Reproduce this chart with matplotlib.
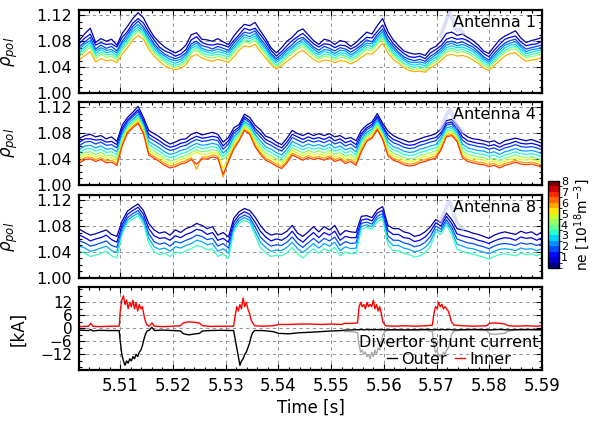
import numpy as np
import matplotlib
matplotlib.use("Agg")
import matplotlib.pyplot as plt
from matplotlib.colors import BoundaryNorm, ListedColormap
from matplotlib.colorbar import ColorbarBase
from matplotlib.ticker import MultipleLocator, FormatStrFormatter

# time base of the profiles (ms after 5.500 s)
t_rho_ms = np.linspace(2.3, 90.0, 88)

# rho_pol of each density layer, stored as 1e-3 above 1.0 (first list = lowest ne)
ant1_ne = [0.3, 0.9, 1.5, 2.1, 2.7, 3.4, 4.3, 5.8]
ant1_l0 = [82,92,100,78,84,80,83,74,92,103,115,124,116,100,87,78,71,66,62,66,74,90,93,83,82,80,84,79,75,88,98,106,104,109,96,84,70,62,70,80,86,95,99,90,81,75,83,81,75,81,79,72,78,86,94,91,104,115,95,82,73,65,62,60,61,58,68,72,80,92,94,89,91,86,81,74,65,61,72,82,88,92,96,85,78,81,83,86]
ant1_l1 = [77,85,91,74,78,75,76,71,86,95,108,115,108,94,82,71,65,62,57,60,67,82,87,78,75,74,76,74,71,81,90,100,97,100,90,79,66,57,64,73,81,87,92,84,76,71,76,75,70,74,73,68,72,79,86,85,95,105,88,76,68,61,56,55,57,53,62,67,73,83,86,83,84,81,75,69,61,56,66,75,83,86,88,79,73,75,76,80]
ant1_l2 = [72,79,86,68,74,69,72,65,80,91,103,111,102,89,76,67,60,56,53,56,62,76,80,73,71,68,72,69,66,77,86,94,92,96,84,74,61,53,60,68,75,83,86,79,71,66,72,69,65,70,68,63,68,74,82,79,90,99,82,72,63,56,52,50,52,49,57,62,69,78,80,77,79,75,71,64,56,51,61,70,77,81,83,74,68,70,72,74]
ant1_l3 = [68,76,81,65,70,66,67,62,77,86,99,106,98,84,73,63,57,52,50,52,59,72,77,69,66,65,68,65,63,72,82,90,87,92,80,70,58,50,56,65,71,78,83,75,68,62,67,66,61,66,65,59,64,71,77,76,86,95,78,68,60,53,48,47,48,46,53,59,65,74,77,73,75,72,67,61,53,48,57,66,74,77,79,71,64,67,68,71]
ant1_l4 = [64,71,78,61,67,62,64,58,73,83,95,102,95,80,69,60,53,49,46,49,55,69,73,66,63,61,64,62,59,69,78,86,84,88,76,67,54,47,53,61,68,75,79,71,64,59,64,62,58,62,61,56,61,67,74,72,82,91,75,64,56,50,45,43,45,42,50,55,62,70,73,70,71,68,64,57,50,45,54,62,70,74,75,67,61,63,65,67]
ant1_l5 = [60,68,74,57,63,59,60,55,70,79,92,98,91,77,65,57,50,45,43,45,52,65,70,62,59,58,60,58,56,65,75,82,80,85,72,63,51,43,49,58,64,71,76,68,61,55,60,59,54,59,57,53,57,64,70,69,78,88,71,61,53,46,42,40,41,39,46,52,58,67,69,66,68,64,60,54,46,42,50,59,66,70,72,64,57,60,61,64]
ant1_l6 = [57,64,71,53,60,55,57,51,66,76,88,95,88,73,62,53,47,42,39,42,48,62,66,59,55,54,57,54,52,62,71,79,77,81,69,59,47,40,46,54,61,68,72,64,57,52,57,55,51,55,54,49,54,60,67,65,75,84,68,57,50,43,38,36,38,35,43,48,55,63,66,62,64,61,56,50,43,38,47,55,63,67,68,60,54,56,58,60]
ant1_l7 = [52,58,64,48,53,50,51,47,60,70,82,89,83,68,57,49,42,38,36,38,44,56,60,54,51,49,52,50,47,56,66,73,71,75,64,54,44,37,42,49,55,62,66,59,52,48,51,50,47,50,49,45,49,55,61,60,68,77,62,52,46,39,35,33,34,32,39,44,50,58,60,57,58,56,51,46,39,35,42,50,57,61,62,55,49,51,52,55]

ant4_ne = [0.3, 0.9, 1.5, 2.3, 3.1, 4.1, 5.0, 5.9, 6.8]
ant4_l0 = [72,76,78,74,76,71,74,67,92,104,112,121,104,84,79,74,68,63,66,70,71,78,81,77,79,81,78,66,73,88,93,109,104,92,85,75,72,66,62,72,84,79,76,80,76,79,76,79,74,76,71,73,68,84,92,97,110,95,83,76,72,69,66,68,71,74,76,79,86,99,101,92,80,74,71,70,68,66,68,63,68,70,72,70,68,70,67,64]
ant4_l1 = [66,71,71,69,70,66,67,62,87,100,108,116,100,78,73,68,62,58,60,64,66,71,75,72,73,75,73,60,68,83,89,105,99,87,79,70,66,61,57,66,78,74,70,74,71,73,70,74,68,71,65,68,62,79,88,93,106,91,77,70,67,63,61,62,66,68,71,73,81,95,97,88,74,68,66,64,63,60,62,58,62,64,67,64,63,64,62,59]
ant4_l2 = [61,66,67,63,66,61,62,57,83,97,105,113,97,73,68,63,57,53,55,59,61,66,70,67,68,70,68,55,63,79,86,102,96,83,74,65,61,56,52,61,73,69,65,69,66,68,65,69,63,66,60,63,57,75,85,90,103,88,72,65,62,58,56,57,61,63,66,68,77,92,94,85,69,63,61,59,58,55,57,53,57,59,62,59,58,59,57,54]
ant4_l3 = [55,60,61,57,60,55,56,51,78,93,101,109,93,67,62,57,51,47,49,53,55,60,64,61,62,64,62,49,57,74,82,98,92,78,68,59,55,50,46,55,67,63,59,63,60,62,59,63,57,60,54,57,51,70,81,86,99,84,66,59,56,52,50,51,55,57,60,62,72,88,90,81,63,57,55,53,52,49,51,47,51,53,56,53,52,53,51,48]
ant4_l4 = [50,55,56,52,55,50,51,46,74,90,98,106,90,62,57,52,46,42,44,48,50,55,59,56,57,59,57,44,52,70,79,95,89,74,63,54,50,45,41,50,62,58,54,58,55,57,54,58,52,55,49,52,46,66,78,83,96,81,61,54,51,47,45,46,50,52,55,57,68,85,87,78,58,52,50,48,47,44,46,42,46,48,51,48,47,48,46,43]
ant4_l5 = [45,50,51,47,50,45,46,41,70,87,95,103,87,57,52,47,41,37,39,43,45,50,54,51,52,54,52,39,47,66,76,92,86,70,58,49,45,40,36,45,57,53,49,53,50,52,49,53,47,50,44,47,41,62,75,80,93,78,56,49,46,42,40,41,45,47,50,52,64,82,84,75,53,47,45,43,42,39,41,37,41,43,46,43,42,43,41,38]
ant4_l6 = [41,46,47,43,46,41,42,37,67,85,93,100,84,53,48,43,37,33,35,39,41,46,50,47,47,50,48,25,43,62,73,89,83,66,54,45,41,36,32,41,53,49,45,49,46,48,45,49,43,46,40,43,37,58,72,77,90,75,52,45,42,38,36,37,41,43,46,48,61,79,81,72,49,43,41,39,38,35,37,33,37,39,42,39,38,39,37,34]
ant4_l7 = [37,42,43,39,42,37,38,33,63,82,90,97,81,49,44,39,33,29,31,35,37,42,24,43,43,46,44,12,39,58,70,86,80,62,50,41,37,32,28,37,49,45,41,45,42,44,41,45,39,42,36,39,33,54,69,74,87,72,48,41,38,34,32,33,37,39,42,44,57,76,78,69,45,39,37,35,34,31,33,29,33,35,38,35,34,35,33,30]
ant4_l8 = [34,39,40,36,39,34,35,30,60,80,88,95,79,46,41,36,30,26,28,32,34,39,32,40,40,43,41,16,36,55,68,84,78,59,47,38,34,29,25,34,46,42,38,42,39,41,38,42,36,39,33,36,30,51,67,72,85,70,45,38,35,31,29,30,34,36,39,41,54,74,76,67,42,36,34,32,31,28,30,26,30,32,35,32,31,32,30,27]
ant4_l9 = [31,36,37,33,36,31,32,27,57,78,86,93,77,43,38,33,27,23,25,29,31,36,34,37,37,40,38,24,33,52,66,82,76,56,44,35,31,26,22,31,43,39,35,39,36,38,35,39,33,36,30,33,27,48,65,70,83,68,42,35,32,28,26,27,31,33,36,38,51,72,74,65,39,33,31,29,28,25,27,23,27,29,32,29,28,29,27,24]

ant8_ne = [0.3, 0.9, 1.6, 2.3, 3.3]
ant8_l0 = [75,70,66,68,71,74,67,64,88,103,109,114,104,84,74,69,71,66,74,70,76,79,84,81,76,79,66,70,63,92,102,107,104,94,81,71,66,68,67,72,81,69,64,71,79,71,79,74,81,66,73,71,70,95,96,93,105,110,81,76,76,71,69,64,66,71,79,90,85,100,90,76,74,72,69,67,64,61,66,69,71,69,67,72,69,71,66,71]
ant8_l1 = [66,62,57,60,62,66,59,55,82,98,104,109,98,76,65,61,62,58,65,62,67,70,75,73,67,70,58,61,55,86,97,102,98,86,72,63,57,60,58,63,72,61,55,63,70,62,70,66,72,58,64,62,62,89,91,88,100,104,73,67,67,62,61,56,58,63,72,85,80,95,84,68,65,63,61,58,56,53,57,60,62,61,58,63,61,62,58,62]
ant8_l2 = [57,54,49,51,54,57,50,47,77,93,99,104,92,68,56,52,54,49,56,54,58,61,66,64,59,61,49,53,46,81,92,97,93,79,63,55,49,51,50,55,63,53,47,54,61,54,61,57,63,50,56,53,54,84,86,83,95,99,65,58,58,54,52,48,50,55,64,80,75,90,78,60,57,54,53,50,48,45,49,52,53,52,50,54,52,53,50,53]
ant8_l3 = [49,46,41,43,46,49,42,39,72,89,95,100,88,61,48,44,46,41,48,46,50,53,58,56,51,53,41,45,38,76,88,93,89,72,55,47,41,43,42,47,55,45,39,46,53,46,53,49,55,42,48,45,46,79,82,79,91,95,58,50,50,46,44,40,42,47,56,75,71,86,73,52,49,46,45,42,40,37,41,44,45,44,42,46,44,45,42,45]
ant8_l4 = [41,38,33,35,38,41,34,31,68,85,91,96,84,54,40,36,38,33,40,38,42,45,50,48,43,45,33,37,30,72,84,89,85,66,47,39,33,35,34,39,47,37,31,38,45,38,45,41,47,34,40,37,38,75,78,75,87,91,51,42,42,38,36,32,34,39,48,71,67,82,67,44,41,38,37,34,32,29,33,36,37,36,34,38,36,37,34,37]

# faded (ELM) part of the outermost layer
fade_t_ms = [70.8, 71.4, 72.0, 72.5, 73.0, 73.5, 74.0, 74.5, 75.0]
fade_ant1 = [88, 102, 116, 125, 114, 100, 96, 99, 93]
fade_ant4 = [86, 98, 110, 116, 108, 96, 90, 86, 82]
fade_ant8 = [88, 100, 112, 118, 106, 92, 84, 80, 76]

# divertor shunt currents [kA]
t_cur_ms = [2.3, 4, 4.4, 4.8, 6, 8, 9.8,
            10.0, 10.3, 10.6, 10.9, 11.2, 11.5, 11.8, 12.1, 12.4, 12.7, 13.0, 13.3, 13.6, 13.9, 14.2, 14.5, 14.8, 15.1, 15.5,
            16.0, 16.5, 18, 20, 21.4, 22, 23, 24, 25, 25.6, 27, 29, 31.5,
            31.8, 32.1, 32.4, 32.7, 33.0, 33.3, 33.6, 33.9, 34.2, 34.5, 34.8, 35.1, 35.5,
            37, 39, 40, 42, 44, 46, 48, 50, 52,
            52.5, 54, 55.0, 55.3, 55.6, 55.9, 56.2, 56.5, 56.8, 57.1, 57.4, 57.7, 58.0, 58.3, 58.6, 58.9, 59.2, 59.5, 59.8, 60.3,
            62, 64, 66, 68, 69.2, 69.5, 69.8, 70.1, 70.4, 70.7, 71.0, 71.3, 71.6, 71.9, 72.2, 72.5, 72.8, 73.3,
            75, 77, 79.5, 80, 81, 82, 83, 83.6, 85, 87, 89, 90]
inner_kA = [0.8, 1.0, 2.3, 1.0, 0.8, 1.0, 1.0,
            8, 13, 15, 11, 13, 9, 12, 10, 13, 9, 12, 8, 11, 9, 10, 6, 3, 1.5, 1.0,
            2.5, 1.0, 0.8, 1.0, 1.2, 2.6, 3.0, 2.8, 2.5, 1.2, 0.9, 1.0, 1.0,
            6, 10, 8, 11, 9, 14, 10, 12, 9, 7, 4, 2.5, 1.2,
            1.0, 1.2, 1.8, 1.8, 2.0, 2.0, 1.8, 2.0, 1.8,
            2.3, 2.3, 2.5, 10, 12, 10, 11, 9, 12, 10, 11, 10, 13, 9, 11, 8, 10, 7, 3, 1.2,
            1.0, 1.2, 1.0, 1.2, 1.5, 7, 10, 9, 12, 10, 11, 9, 10, 9, 8, 6, 3, 1.5,
            1.2, 1.0, 1.2, 2.3, 2.5, 2.3, 2.0, 1.2, 1.0, 1.2, 1.0, 1.2]
outer_kA = [-0.8, -1.0, -0.5, -1.2, -0.9, -1.0, -1.0,
            -6, -12, -15, -17, -15, -16, -14, -15, -13, -14, -12, -13, -11, -10, -8, -5, -2.5, -1.2, -0.8,
            0.5, -1.0, -0.8, -1.0, -1.2, -2.5, -3.0, -2.6, -2.3, -1.2, -1.0, -0.9, -1.0,
            -5, -9, -13, -17, -15, -14, -12, -11, -9, -7, -4, -2, -1.0,
            -1.0, -1.5, -2.3, -2.5, -2.0, -1.8, -1.5, -1.2, -1.0,
            -0.8, -0.7, -0.6, -0.7, -0.5, -0.6, -0.7, -0.6, -0.5, -0.7, -0.6, -0.5, -0.7, -0.6, -0.6, -0.5, -0.7, -0.6, -0.6, -0.7,
            -0.6, -0.7, -0.6, -0.5, -0.6, -0.7, -0.6, -0.5, -0.7, -0.6, -0.6, -0.5, -0.7, -0.6, -0.6, -0.5, -0.6, -0.7,
            -0.6, -0.5, -0.6, -0.7, -0.6, -0.5, -0.6, -0.7, -0.6, -0.5, -0.6, -0.6]
# second (grey) outer trace, later part of the window
t_grey_ms = [52.5, 54, 55.0, 55.3, 55.6, 55.9, 56.2, 56.5, 56.8, 57.1, 57.4, 57.7, 58.0, 58.3, 58.6, 58.9, 59.2, 59.5, 59.8, 60.3,
             62, 64, 66, 68, 69.2, 69.5, 69.8, 70.1, 70.4, 70.7, 71.0, 71.3, 71.6, 71.9, 72.2, 72.5, 72.8, 73.3,
             75, 77, 79.5, 80, 81, 82, 83, 83.6, 85, 87, 89, 90]
grey_kA = [-1.5, -1.5, -2, -8, -11, -10, -12, -11, -13, -12, -14, -11, -13, -10, -12, -9, -10, -7, -3, -1.0,
           -0.8, -0.8, -1.0, -0.8, -1.5, -8, -11, -10, -13, -12, -14, -11, -12, -10, -9, -7, -3, -1.2,
           -0.8, -0.8, -1.0, -2.3, -2.8, -2.5, -2.3, -1.2, -0.8, -0.8, -0.8, -0.8]

x_ticks = [5.51, 5.52, 5.53, 5.54, 5.55, 5.56, 5.57, 5.58, 5.59]
rho_ticks = [1.00, 1.04, 1.08, 1.12]
kA_ticks = [-12, -6, 0, 6, 12]


def to_s(ms):
    return 5.5 + np.asarray(ms, dtype=float) / 1000.0


def to_rho(milli):
    return 1.0 + np.asarray(milli, dtype=float) / 1000.0


def style_axis(ax):
    ax.set_xlim(5.5022, 5.590)
    ax.xaxis.set_major_locator(plt.FixedLocator(x_ticks))
    ax.xaxis.set_minor_locator(MultipleLocator(0.002))
    ax.tick_params(which='both', direction='in', top=True, right=True, labelsize=12, pad=5)
    ax.tick_params(which='major', length=4, width=0.8)
    ax.tick_params(which='minor', length=2, width=0.8)
    ax.grid(True, which='major', linestyle='--', color='#808080', linewidth=0.6, dashes=(4, 4))
    ax.set_axisbelow(True)
    for sp in ax.spines.values():
        sp.set_linewidth(1.6)


fig = plt.figure(figsize=(5.95, 4.21), dpi=100)
left, width, height = 0.133, 0.778, 0.197
bottoms = [0.779, 0.561, 0.340, 0.121]
axes = [fig.add_axes([left, b, width, height]) for b in bottoms]

t_rho = to_s(t_rho_ms)
panels = [
    ("Antenna 1", ant1_ne, [ant1_l0, ant1_l1, ant1_l2, ant1_l3, ant1_l4, ant1_l5, ant1_l6, ant1_l7], fade_ant1),
    ("Antenna 4", ant4_ne, [ant4_l0, ant4_l1, ant4_l2, ant4_l3, ant4_l4, ant4_l5, ant4_l6, ant4_l7, ant4_l8, ant4_l9], fade_ant4),
    ("Antenna 8", ant8_ne, [ant8_l0, ant8_l1, ant8_l2, ant8_l3, ant8_l4], fade_ant8),
]

for ax, (name, levels, curves, fade) in zip(axes[:3], panels):
    for ne, rho in zip(levels, curves):
        ax.plot(t_rho, to_rho(rho), color=plt.cm.jet(ne / 8.0), lw=0.9)
    # ELM spike shown washed out
    ax.plot(to_s(fade_t_ms), to_rho(fade), color='#c3c8f2', lw=2.6, alpha=0.6)
    style_axis(ax)
    ax.set_ylim(1.0, 1.128)
    ax.yaxis.set_major_locator(plt.FixedLocator(rho_ticks))
    ax.yaxis.set_minor_locator(MultipleLocator(0.01))
    ax.yaxis.set_major_formatter(FormatStrFormatter('%.2f'))
    ax.tick_params(labelbottom=False)
    ax.tick_params(axis='y', labelsize=11.5)
    ax.set_ylabel(r'$\rho_{pol}$', fontsize=12)
    ax.yaxis.set_label_coords(-0.128, 0.5)
    ax.text(0.988, 0.94, name, transform=ax.transAxes, ha='right', va='top', fontsize=11.5)

# ---- shunt currents ----
ax4 = axes[3]
ax4.plot(to_s(t_grey_ms), grey_kA, color='#a8a8a8', lw=1.0)
ax4.plot(to_s(t_cur_ms), outer_kA, color='black', lw=1.0, label='Outer')
ax4.plot(to_s(t_cur_ms), inner_kA, color='red', lw=1.0, label='Inner')
style_axis(ax4)
ax4.set_ylim(-19.2, 19.0)
ax4.yaxis.set_major_locator(plt.FixedLocator(kA_ticks))
ax4.yaxis.set_minor_locator(MultipleLocator(3))
ax4.tick_params(axis='y', labelsize=11)
ax4.xaxis.set_major_formatter(FormatStrFormatter('%.2f'))
ax4.set_ylabel('[kA]', fontsize=12)
ax4.yaxis.set_label_coords(-0.112, 0.5)
ax4.set_xlabel('Time [s]', fontsize=12, labelpad=3)
ax4.legend(loc='lower right', ncol=2, title='Divertor shunt current', frameon=False,
           fontsize=11.5, title_fontsize=11.5, handlelength=0.6, handletextpad=0.3,
           columnspacing=0.5, borderaxespad=0.1, borderpad=0.1, labelspacing=0.1)

# ---- colour bar for ne ----
cax = fig.add_axes([0.921, 0.363, 0.018, 0.207])
bounds = np.linspace(0, 8, 17)
cmap = ListedColormap(plt.cm.jet(np.linspace(0, 1, 16)))
cb = ColorbarBase(cax, cmap=cmap, norm=BoundaryNorm(bounds, 16), ticks=[1, 2, 3, 4, 5, 6, 7, 8])
cb.ax.tick_params(labelsize=8, length=0, pad=1.5)
cb.outline.set_linewidth(1.0)
cb.set_label(r'ne [10$^{18}$m$^{-3}$]', fontsize=10, labelpad=3)

fig.savefig('out.png', dpi=100)
